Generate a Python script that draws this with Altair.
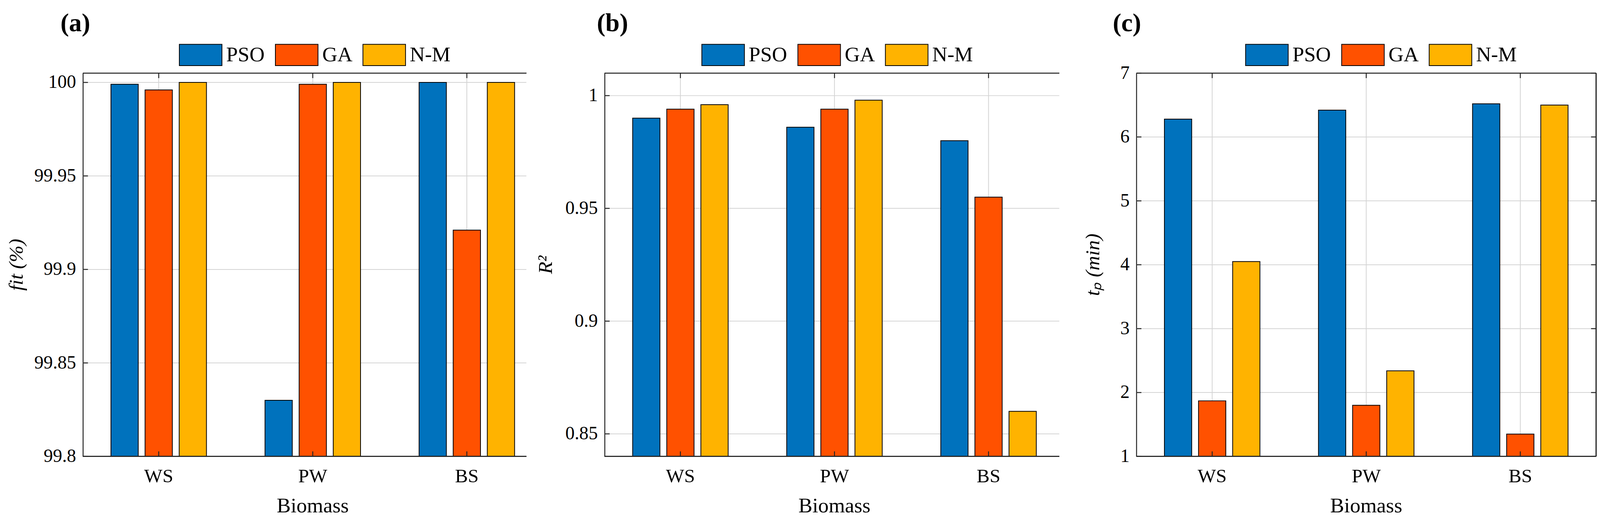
import altair as alt
import pandas as pd

# ── style ────────────────────────────────────────────────────────────────────
FONT = "Liberation Serif"
PSO_COLOR = "#0072BD"
GA_COLOR = "#FF5100"
NM_COLOR = "#FFB300"
GRID_COLOR = "#d4d4d4"
AXIS_COLOR = "#262626"

PLOT_H = 990
X_RANGE = 1187     # full category span of every panel
TICK_LEN = 13

# ── data ─────────────────────────────────────────────────────────────────────
biomass = ["WS", "PW", "BS"]
methods = ["PSO", "GA", "N-M"]
colors = [PSO_COLOR, GA_COLOR, NM_COLOR]

fit_pso = [99.999, 99.830, 100.000]
fit_ga = [99.996, 99.999, 99.921]
fit_nm = [100.000, 100.000, 100.000]

r2_pso = [0.990, 0.986, 0.980]
r2_ga = [0.994, 0.994, 0.955]
r2_nm = [0.996, 0.998, 0.860]

tp_pso = [6.28, 6.42, 6.52]
tp_ga = [1.87, 1.80, 1.35]
tp_nm = [4.05, 2.34, 6.50]

fit_ticks = [99.8, 99.85, 99.9, 99.95, 100]
r2_ticks = [0.85, 0.9, 0.95, 1]
tp_ticks = [1, 2, 3, 4, 5, 6, 7]


def label(text, x, y, size, angle=0, style="normal", weight="normal",
          align="center", baseline="middle"):
    """Free text (panel tag, axis titles) placed in plot pixels."""
    mark = dict(align=align, baseline=baseline, font=FONT, fontSize=size,
                fontStyle=style, fontWeight=weight, color="black")
    if angle:
        mark["angle"] = angle
    return alt.Chart(pd.DataFrame({"t": [text]})).mark_text(**mark).encode(
        x=alt.value(x), y=alt.value(y), text="t:N")


def panel(tag, series, ticks, domain, ytitle, title_x, vis_w, view_w,
          legend_x, tag_x, right_box=False):
    rows = []
    for m, vals in zip(methods, series):
        for b, v in zip(biomass, vals):
            rows.append({"Biomass": b, "Method": m, "value": v})
    df = pd.DataFrame(rows)
    cats = pd.DataFrame({"Biomass": biomass})
    tick_df = pd.DataFrame({"value": ticks})

    x_scale = alt.Scale(domain=biomass, range=[0, X_RANGE],
                        paddingInner=0.38, paddingOuter=0.182)
    y_scale = alt.Scale(domain=domain, nice=False, zero=False)

    x_plain = alt.X("Biomass:N", scale=x_scale, axis=None)
    y_plain = alt.Y("value:Q", scale=y_scale)

    hgrid = alt.Chart(tick_df).mark_rule(color=GRID_COLOR, strokeWidth=2).encode(
        y=y_plain, x=alt.value(0), x2=alt.value(vis_w),
    )
    vgrid = alt.Chart(cats).mark_rule(color=GRID_COLOR, strokeWidth=2).encode(
        x=x_plain, y=alt.value(0), y2=alt.value(PLOT_H),
    )

    bars = alt.Chart(df).mark_bar(stroke="black", strokeWidth=2, opacity=1).encode(
        x=alt.X("Biomass:N", scale=x_scale, sort=biomass, axis=None),
        xOffset=alt.XOffset("Method:N", sort=methods,
                            scale=alt.Scale(paddingInner=0.2, paddingOuter=0)),
        y=alt.Y(
            "value:Q", scale=y_scale,
            axis=alt.Axis(
                values=ticks, format="~g", title=None,
                labelFont=FONT, labelFontSize=48, labelColor="black",
                labelPadding=18, ticks=False, tickSize=0, grid=False,
                domain=True, domainColor=AXIS_COLOR, domainWidth=2.5,
            ),
        ),
        y2=alt.datum(domain[0]),
        color=alt.Color(
            "Method:N",
            scale=alt.Scale(domain=methods, range=colors),
            legend=alt.Legend(
                orient="none", legendX=legend_x, legendY=-103,
                direction="horizontal", title=None,
                symbolType="M-1,-0.5H1V0.5H-1Z", symbolSize=12100,
                symbolStrokeColor="black", symbolStrokeWidth=2,
                symbolOpacity=1, labelFont=FONT, labelFontSize=54,
                labelColor="black", labelOffset=10, columnPadding=23,
                padding=0,
            ),
        ),
    )

    # category labels under the bars, placed by the x scale
    cat_labels = alt.Chart(cats).mark_text(
        font=FONT, fontSize=50, color="black", baseline="alphabetic",
        align="center",
    ).encode(x=x_plain, y=alt.value(PLOT_H + 67), text="Biomass:N")

    line_style = dict(color=AXIS_COLOR, strokeWidth=2.5)
    top_line = alt.Chart(cats).mark_rule(**line_style).encode(
        x=alt.value(0), x2=alt.value(vis_w), y=alt.value(0))
    bottom_line = alt.Chart(cats).mark_rule(**line_style).encode(
        x=alt.value(0), x2=alt.value(vis_w), y=alt.value(PLOT_H))
    top_ticks = alt.Chart(cats).mark_rule(**line_style).encode(
        x=x_plain, y=alt.value(0), y2=alt.value(TICK_LEN))
    bottom_ticks = alt.Chart(cats).mark_rule(**line_style).encode(
        x=x_plain, y=alt.value(PLOT_H - TICK_LEN), y2=alt.value(PLOT_H))
    left_ticks = alt.Chart(tick_df).mark_rule(**line_style).encode(
        y=y_plain, x=alt.value(0), x2=alt.value(TICK_LEN))

    layers = [hgrid, vgrid, bars, cat_labels, top_line, bottom_line,
              top_ticks, bottom_ticks, left_ticks]
    if right_box:
        right_line = alt.Chart(cats).mark_rule(**line_style).encode(
            x=alt.value(vis_w), y=alt.value(0), y2=alt.value(PLOT_H))
        right_ticks = alt.Chart(tick_df).mark_rule(**line_style).encode(
            y=y_plain, x=alt.value(vis_w - TICK_LEN), x2=alt.value(vis_w))
        layers += [right_line, right_ticks]

    layers += [
        label(tag, tag_x, -108, 66, weight="bold", align="left",
              baseline="alphabetic"),
        label(ytitle, title_x, PLOT_H / 2, 52, angle=270, style="italic"),
        label("Biomass", X_RANGE / 2, PLOT_H + 145, 54,
              baseline="alphabetic"),
    ]

    return alt.layer(*layers).properties(width=view_w, height=PLOT_H)


panel_a = panel("(a)", [fit_pso, fit_ga, fit_nm], fit_ticks, [99.8, 100.005],
                "fit (%)", -172, 1145, 1145, 248, -58)
panel_b = panel("(b)", [r2_pso, r2_ga, r2_nm], r2_ticks, [0.84, 1.01],
                "R²", -152, 1174, 1213, 250, -20)
panel_c = panel("(c)", [tp_pso, tp_ga, tp_nm], tp_ticks, [1, 7],
                "tₚ (min)", -112, 1187, 1187, 281, -61, right_box=True)

chart = (
    alt.hconcat(panel_a, panel_b, panel_c, spacing=22)
    .resolve_legend(color="independent")
    .properties(padding={"left": 8, "top": 14, "right": 0, "bottom": 0})
    .configure(font=FONT, background="white")
    .configure_axis(labelFont=FONT, titleFont=FONT)
    .configure_view(strokeWidth=0)
)

chart.save("out.html", embed_options={"renderer": "svg", "actions": False})
